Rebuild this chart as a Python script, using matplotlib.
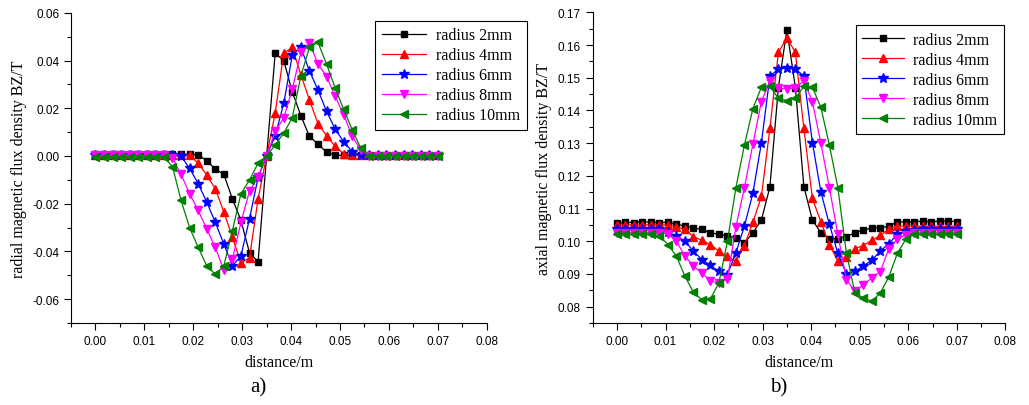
"""Radial / axial magnetic flux density vs distance for five magnet radii (panels a, b)."""
import numpy as np
import matplotlib
matplotlib.use("Agg")
import matplotlib.pyplot as plt
from matplotlib.ticker import MultipleLocator

SERIF = ["Liberation Serif", "DejaVu Serif"]
SANS = ["Liberation Sans", "DejaVu Sans"]

# 41 samples, 0 .. 0.07 m
DIST = [round(0.00175 * i, 5) for i in range(41)]
LABELS = ["radius 2mm", "radius 4mm", "radius 6mm", "radius 8mm", "radius 10mm"]

# a) radial component BZ/T
RAD_R2 = [0.0007, 0.0007, 0.0007, 0.0007, 0.0007, 0.0007, 0.0007, 0.0007, 0.0007, 0.0007,
          0.0007, 0.0007, 0.0005, -0.002, -0.0055, -0.0077, -0.018, -0.027, -0.0406, -0.0443,
          0.0, 0.043, 0.040, 0.0268, 0.0169, 0.0082, 0.005, 0.0016, 0.0003, 0.0003,
          0.0003, 0.0003, 0.0003, 0.0003, 0.0003, 0.0003, 0.0003, 0.0003, 0.0003, 0.0003, 0.0003]
RAD_R4 = [0.0006, 0.0006, 0.0006, 0.0006, 0.0006, 0.0006, 0.0006, 0.0006, 0.0006, 0.0006,
          0.0006, 0.0003, -0.003, -0.008, -0.0137, -0.0235, -0.034, -0.045, -0.0426, -0.018,
          0.0, 0.018, 0.043, 0.0455, 0.034, 0.0235, 0.0135, 0.0085, 0.004, 0.001,
          0.0003, 0.0003, 0.0003, 0.0003, 0.0003, 0.0003, 0.0003, 0.0003, 0.0003, 0.0003, 0.0003]
RAD_R6 = [0.0004, 0.0004, 0.0004, 0.0004, 0.0004, 0.0004, 0.0004, 0.0004, 0.0004, 0.0002,
          0.0, -0.0052, -0.0116, -0.0193, -0.0278, -0.037, -0.046, -0.0419, -0.0263, -0.009,
          0.0, 0.0085, 0.022, 0.0423, 0.0455, 0.0357, 0.0276, 0.0187, 0.0113, 0.006,
          0.0018, 0.0003, 0.0003, 0.0003, 0.0003, 0.0003, 0.0003, 0.0003, 0.0003, 0.0003, 0.0003]
RAD_R8 = [0.0002, 0.0002, 0.0002, 0.0002, 0.0002, 0.0002, 0.0002, 0.0002, 0.0002, -0.001,
          -0.0077, -0.0158, -0.0228, -0.0306, -0.0383, -0.048, -0.0433, -0.0278, -0.0147, -0.0087,
          0.0, 0.0103, 0.016, 0.028, 0.0434, 0.0474, 0.0385, 0.0333, 0.025, 0.0173,
          0.0082, 0.0025, 0.0, 0.0, 0.0, 0.0, 0.0, 0.0, 0.0, 0.0, 0.0]
RAD_R10 = [-0.0003, -0.0003, -0.0003, -0.0003, -0.0003, -0.0003, -0.0003, -0.0003, -0.0005, -0.0045,
           -0.0186, -0.03, -0.0383, -0.046, -0.0496, -0.046, -0.0313, -0.0158, -0.0101, -0.003,
           0.0, 0.0046, 0.0096, 0.016, 0.0335, 0.0455, 0.0476, 0.0385, 0.0286, 0.0195,
           0.011, 0.0033, 0.0, 0.0, 0.0, 0.0, 0.0, 0.0, 0.0, 0.0, 0.0]

# b) axial component BZ/T
AX_R2 = [0.1055, 0.1058, 0.1057, 0.1060, 0.1058, 0.1057, 0.1058, 0.1053, 0.1046, 0.1041,
         0.1036, 0.1026, 0.1021, 0.1016, 0.1011, 0.0995, 0.1026, 0.1065, 0.1166, 0.147,
         0.1647, 0.147, 0.1167, 0.1065, 0.1026, 0.1008, 0.1008, 0.1014, 0.1026, 0.1034,
         0.1041, 0.1041, 0.1046, 0.1059, 0.1059, 0.1059, 0.1062, 0.1059, 0.1062, 0.1062, 0.1060]
AX_R4 = [0.1050, 0.1050, 0.1050, 0.1050, 0.1050, 0.1050, 0.1049, 0.1045, 0.1036, 0.1014,
         0.1003, 0.0990, 0.0970, 0.0954, 0.0939, 0.0987, 0.1058, 0.1137, 0.1345, 0.1578,
         0.1621, 0.1578, 0.1345, 0.1131, 0.1059, 0.0990, 0.0939, 0.0952, 0.0977, 0.0987,
         0.1003, 0.1018, 0.1038, 0.1046, 0.1046, 0.1046, 0.1046, 0.1046, 0.1046, 0.1046, 0.1046]
AX_R6 = [0.1036, 0.1036, 0.1036, 0.1036, 0.1036, 0.1036, 0.1028, 0.1016, 0.1000, 0.0970,
         0.0944, 0.0926, 0.0908, 0.0898, 0.0965, 0.1046, 0.1147, 0.1301, 0.1505, 0.1527,
         0.1530, 0.1527, 0.1505, 0.1302, 0.1151, 0.1052, 0.0963, 0.0901, 0.0908, 0.0924,
         0.0942, 0.0970, 0.0993, 0.1021, 0.1031, 0.1035, 0.1036, 0.1036, 0.1036, 0.1036, 0.1036]
AX_R8 = [0.1026, 0.1026, 0.1026, 0.1026, 0.1026, 0.1026, 0.1023, 0.1000, 0.0954, 0.0924,
         0.0903, 0.0878, 0.0873, 0.0885, 0.1044, 0.1164, 0.1297, 0.1427, 0.1491, 0.1468,
         0.1466, 0.1468, 0.1491, 0.1427, 0.1300, 0.1164, 0.1021, 0.0883, 0.0847, 0.0867,
         0.0888, 0.0907, 0.0977, 0.1006, 0.1020, 0.1026, 0.1026, 0.1026, 0.1026, 0.1026, 0.1026]
AX_R10 = [0.1021, 0.1021, 0.1021, 0.1021, 0.1021, 0.1016, 0.0990, 0.0954, 0.0893, 0.0844,
          0.0821, 0.0824, 0.0873, 0.1000, 0.1164, 0.1294, 0.1406, 0.1471, 0.1474, 0.1437,
          0.1430, 0.1437, 0.1474, 0.1471, 0.1410, 0.1294, 0.1164, 0.0965, 0.0842, 0.0827,
          0.0816, 0.0842, 0.0891, 0.0963, 0.1006, 0.1021, 0.1021, 0.1021, 0.1021, 0.1021, 0.1021]

STYLE = [("black", "s", 4.5), ("#ff0000", "^", 5.5), ("#0000ff", "*", 7),
         ("#ff00ff", "v", 5.5), ("#008000", "<", 5.5)]


def panel(fig, rect, series, ylim, ymaj, ymin, ylabel, letter, leg_anchor, hlen):
    ax = fig.add_axes(rect)
    for ys, lab, (c, m, ms) in zip(series, LABELS, STYLE):
        ax.plot(DIST, ys, color=c, marker=m, ms=ms, lw=0.9, mec=c, mfc=c, label=lab)
    ax.set_xlim(-0.005, 0.08); ax.set_ylim(*ylim)
    ax.xaxis.set_major_locator(MultipleLocator(0.01)); ax.xaxis.set_minor_locator(MultipleLocator(0.005))
    ax.yaxis.set_major_locator(MultipleLocator(ymaj)); ax.yaxis.set_minor_locator(MultipleLocator(ymin))
    ax.xaxis.set_major_formatter(lambda v, p: f"{v:.2f}")
    ax.yaxis.set_major_formatter(lambda v, p: f"{v:.2f}")
    for s in ("top", "right"):
        ax.spines[s].set_visible(False)
    ax.tick_params(which="major", direction="out", length=5, width=0.8, labelsize=8.5)
    ax.tick_params(which="minor", direction="out", length=3, width=0.8)
    for t in ax.get_xticklabels() + ax.get_yticklabels():
        t.set_family(SANS)
    ax.set_xlabel("distance/m", family=SERIF, fontsize=11.5, labelpad=5)
    ax.set_ylabel(ylabel, family=SERIF, fontsize=11.5, labelpad=4)
    leg = ax.legend(loc="upper left", bbox_to_anchor=leg_anchor, bbox_transform=fig.transFigure,
                    prop={"family": SERIF, "size": 11.5}, frameon=True, fancybox=False,
                    edgecolor="black", framealpha=1, handlelength=hlen, labelspacing=0.25,
                    borderpad=0.4, handletextpad=0.6)
    leg.get_frame().set_linewidth(0.8)
    cx = rect[0] + rect[2] / 2 - 0.02
    fig.text(cx, 0.045, letter, family=SERIF, fontsize=15, ha="center", va="center")
    return ax


fig = plt.figure(figsize=(10.29, 4.06), dpi=100)
panel(fig, [0.069, 0.202, 0.404, 0.764], [RAD_R2, RAD_R4, RAD_R6, RAD_R8, RAD_R10],
      (-0.07, 0.06), 0.02, 0.01, "radial magnetic flux density BZ/T", "a)", (0.357, 0.966), 2.8)
panel(fig, [0.576, 0.202, 0.401, 0.765], [AX_R2, AX_R4, AX_R6, AX_R8, AX_R10],
      (0.075, 0.17), 0.01, 0.005, "axial magnetic flux density BZ/T", "b)", (0.824, 0.955), 2.6)
fig.savefig("out.png", dpi=100)
